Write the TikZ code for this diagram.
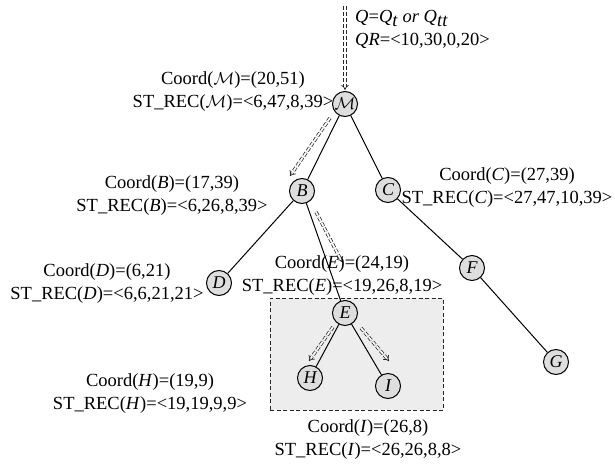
\documentclass[tikz,border=0pt]{standalone}
\usepackage{fontspec}
\setmainfont{Liberation Serif}
\usetikzlibrary{arrows.meta}
\tikzset{
  tnode/.style={circle, draw=black, line width=1pt, fill=black!13, minimum size=25pt, inner sep=0pt, font=\fontsize{18}{20}\selectfont\itshape},
  lbl/.style={align=center, inner sep=0pt, font=\fontsize{18.5}{23}\selectfont},
  edge/.style={draw=black, line width=1pt},
  flow/.style={draw=black!85, line width=0.75pt, double=white, double distance=1.8pt, dash pattern=on 4pt off 2pt, -{Implies[scale=1.8]}},
  framebox/.style={draw=black!85, line width=1pt, dash pattern=on 4pt off 2.5pt, fill=black!7, minimum width=173pt, minimum height=112pt, inner sep=0pt}
}
\begin{document}
\begin{tikzpicture}[x=1pt,y=-1pt]
\useasboundingbox (0,0) rectangle (615,463);
\node[framebox] (frame) at (356.5,354) {};
% tree nodes
\node[tnode] (M) at (345,104) {$\mathcal{M}$};
\node[tnode] (B) at (302,191) {B};
\node[tnode] (C) at (388,190) {C};
\node[tnode] (D) at (219,283) {D};
\node[tnode] (E) at (345,313) {E};
\node[tnode] (F) at (472,268) {F};
\node[tnode] (G) at (556,362) {G};
\node[tnode] (H) at (310,378) {H};
\node[tnode] (I) at (388,386) {I};
% edges
\draw[edge] (M) -- (B);
\draw[edge] (M) -- (C);
\draw[edge] (B) -- (D);
\draw[edge] (B) -- (E);
\draw[edge] (C) -- (F);
\draw[edge] (F) -- (G);
\draw[edge] (E) -- (H);
\draw[edge] (E) -- (I);
% labels
\node[lbl] (lM) at (233,92) {Coord($\mathcal{M}$)=(20,51)\\ST\_REC($\mathcal{M}$)=<6,47,8,39>};
\node[lbl] (lB) at (172,196) {Coord(\textit{B})=(17,39)\\ST\_REC(\textit{B})=<6,26,8,39>};
\node[lbl] (lC) at (507,188) {Coord(\textit{C})=(27,39)\\ST\_REC(\textit{C})=<27,47,10,39>};
\node[lbl] (lD) at (107,284) {Coord(\textit{D})=(6,21)\\ST\_REC(\textit{D})=<6,6,21,21>};
\node[lbl] (lE) at (342,276) {Coord(\textit{E})=(24,19)\\ST\_REC(\textit{E})=<19,26,8,19>};
\node[lbl] (lH) at (150,394) {Coord(\textit{H})=(19,9)\\ST\_REC(\textit{H})=<19,19,9,9>};
\node[lbl] (lI) at (368,440) {Coord(\textit{I})=(26,8)\\ST\_REC(\textit{I})=<26,26,8,8>};
\node[lbl, align=left, anchor=west] (lQ) at (355,29) {\textit{Q}=\textit{Q}$_{\textit{t}}$ \textit{or} \textit{Q}$_{\textit{tt}}$\\\textit{QR}=<10,30,0,20>};
% query flow arrows
\coordinate (q0) at (345,6);
\coordinate (q1) at (345,90);
\draw[flow] (q0) -- (q1);
\coordinate (a1) at (330,118);
\coordinate (a2) at (290,176);
\draw[flow] (a1) -- (a2);
\coordinate (b1) at (316,212);
\coordinate (b2) at (342,262);
\draw[flow] (b1) -- (b2);
\coordinate (c1) at (333,327);
\coordinate (c2) at (309,361);
\draw[flow] (c1) -- (c2);
\coordinate (d1) at (361,328);
\coordinate (d2) at (389,361);
\draw[flow] (d1) -- (d2);
\end{tikzpicture}
\end{document}
